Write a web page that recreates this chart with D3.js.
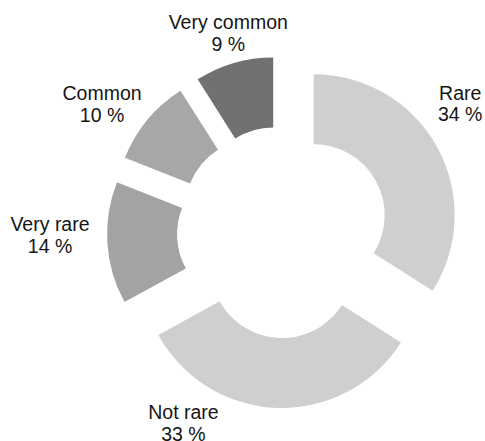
<!DOCTYPE html>
<html>
<head>
<meta charset="utf-8">
<script src="https://cdn.jsdelivr.net/npm/d3@7"></script>
<style>
  body { margin: 0; background: #fff; }
  text { font-family: "Liberation Sans", Arial, sans-serif; fill: #151515; }
</style>
</head>
<body>
<svg id="chart"></svg>
<script>
// Slices, clockwise from 12 o'clock
const categories = ["Rare", "Not rare", "Very rare", "Common", "Very common"];
const values = [34, 33, 14, 10, 9];
const colors = ["#cfcfcf", "#cfcfcf", "#a3a3a3", "#a7a7a7", "#717171"];

// Label placement around the center: [angle in degrees clockwise from top, distance]
const labelAt = [[53.3, 221], [208.0, 212], [270.2, 233], [306.1, 224], [344.9, 210]];

const width = 485;
const height = 441;
const cx = 283, cy = 232;
const outerR = 141, innerR = 71;
const explode = 35;

const svg = d3.select("#chart")
  .attr("width", width)
  .attr("height", height);

const pie = d3.pie()
  .sort(null)
  .value(d => d);

const arc = d3.arc()
  .innerRadius(innerR)
  .outerRadius(outerR);

const arcs = pie(values);

const g = svg.append("g")
  .attr("transform", `translate(${cx},${cy})`);

// Exploded slices, each pushed out along its bisector
g.selectAll("path")
  .data(arcs)
  .enter()
  .append("path")
  .attr("d", arc)
  .attr("transform", d => {
    const mid = (d.startAngle + d.endAngle) / 2;
    return `translate(${explode * Math.sin(mid)},${-explode * Math.cos(mid)})`;
  })
  .style("fill", (d, i) => colors[i]);

// Two-line labels: name and percentage
const labels = g.selectAll(".label")
  .data(arcs)
  .enter()
  .append("text")
  .attr("class", "label")
  .attr("text-anchor", "middle")
  .style("font-size", "19.5px")
  .attr("transform", (d, i) => {
    const a = labelAt[i][0] * Math.PI / 180;
    const r = labelAt[i][1];
    return `translate(${r * Math.sin(a)},${-r * Math.cos(a)})`;
  });

labels.append("tspan")
  .attr("x", 0)
  .attr("y", 0)
  .text((d, i) => categories[i]);

labels.append("tspan")
  .attr("x", 0)
  .attr("y", 21.5)
  .text(d => d.data + " %");
</script>
</body>
</html>
